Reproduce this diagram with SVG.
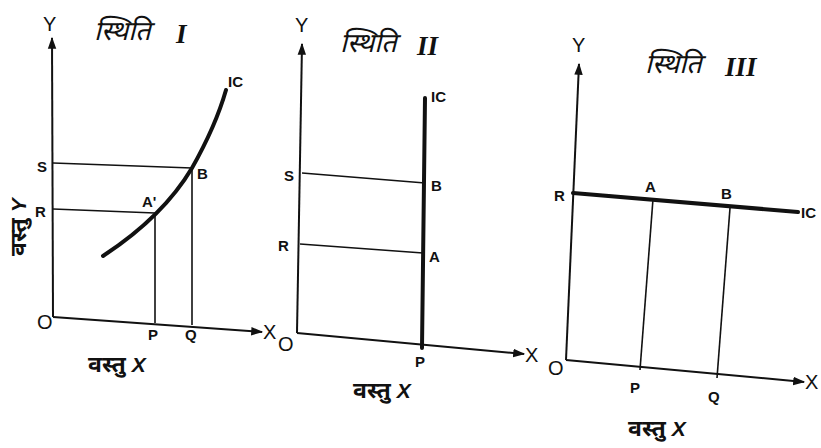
<svg xmlns="http://www.w3.org/2000/svg" width="821" height="448" viewBox="0 0 821 448">
<defs>
<marker id="arr" viewBox="0 0 10 10" refX="9" refY="5" markerWidth="6" markerHeight="6" orient="auto" markerUnits="strokeWidth">
<path d="M0,1.5 L10,5 L0,8.5 z" fill="#111"/>
</marker>
<style>
.ax{stroke:#111;stroke-width:2;fill:none}
.gd{stroke:#111;stroke-width:1.6;fill:none}
.ic{stroke:#111;stroke-width:4;fill:none;stroke-linecap:round}
.pt{font-family:"Liberation Sans",Arial,sans-serif;font-weight:bold;font-size:15px;fill:#111}
.axl{font-family:"Liberation Sans",Arial,sans-serif;font-size:20px;fill:#111}
.ttl{font-family:"Noto Sans Devanagari","Noto Sans",sans-serif;font-style:italic;font-size:27px;fill:#111}
.rn{font-family:"Liberation Serif","Times New Roman",serif;font-style:italic;font-weight:bold;font-size:27px;fill:#111}
.lbl{font-family:"Noto Sans Devanagari","Noto Sans",sans-serif;font-weight:bold;font-size:23px;fill:#111}
.lx{font-family:"Liberation Sans",Arial,sans-serif;font-style:italic;font-size:21px;fill:#111}
</style>
</defs>
<rect width="821" height="448" fill="#fff"/>

<g id="connectors">
<path class="ax" d="M53,317 L52,38" marker-end="url(#arr)"/>
<path class="ax" d="M53,317 L262,332" marker-end="url(#arr)"/>
<path class="ax" d="M297,333 L302,44" marker-end="url(#arr)"/>
<path class="ax" d="M297,333 L524,354" marker-end="url(#arr)"/>
<path class="ax" d="M566,360 L579,64" marker-end="url(#arr)"/>
<path class="ax" d="M566,360 L804,382" marker-end="url(#arr)"/>
</g>

<g id="graph1">
<path class="gd" d="M53,163 L192,168"/>
<path class="gd" d="M53,209 L155,213"/>
<path class="gd" d="M155,214 L155,323"/>
<path class="gd" d="M192,168 L192,325"/>
<path class="ic" d="M103,256 C135,235 170,205 192,168 C205,145 218,118 226,90"/>
<text class="axl" x="43" y="31">Y</text>
<text class="ttl" x="94" y="40">स्थिति</text>
<text class="rn" x="176" y="43">I</text>
<text class="pt" x="228" y="87">IC</text>
<text class="pt" x="37" y="172">S</text>
<text class="pt" x="35" y="217">R</text>
<text class="pt" x="142" y="207">A'</text>
<text class="pt" x="197" y="179">B</text>
<text class="axl" x="37" y="329">O</text>
<text class="pt" x="148" y="340">P</text>
<text class="pt" x="185" y="340">Q</text>
<text class="axl" x="263" y="339">X</text>
<text class="lbl" transform="translate(26,256) rotate(-90)">वस्तु <tspan class="lx">Y</tspan></text>
<text class="lbl" x="88" y="372">वस्तु <tspan class="lx">X</tspan></text>
</g>

<g id="graph2">
<path class="gd" d="M302,173 L425,183"/>
<path class="gd" d="M300,244 L423,253"/>
<path class="ic" d="M425,98 L422,348"/>
<text class="axl" x="295" y="32">Y</text>
<text class="ttl" x="340" y="52">स्थिति</text>
<text class="rn" x="417" y="55">II</text>
<text class="pt" x="431" y="102">IC</text>
<text class="pt" x="284" y="181">S</text>
<text class="pt" x="431" y="191">B</text>
<text class="pt" x="278" y="251">R</text>
<text class="pt" x="429" y="262">A</text>
<text class="axl" x="278" y="351">O</text>
<text class="pt" x="415" y="367">P</text>
<text class="axl" x="525" y="362">X</text>
<text class="lbl" x="353" y="398">वस्तु <tspan class="lx">X</tspan></text>
</g>

<g id="graph3">
<path class="ic" d="M573,193 L798,212"/>
<path class="gd" d="M653,199 L640,370"/>
<path class="gd" d="M730,208 L717,378"/>
<text class="axl" x="572" y="52">Y</text>
<text class="ttl" x="645" y="73">स्थिति</text>
<text class="rn" x="725" y="76">III</text>
<text class="pt" x="554" y="201">R</text>
<text class="pt" x="645" y="192">A</text>
<text class="pt" x="721" y="199">B</text>
<text class="pt" x="801" y="218">IC</text>
<text class="axl" x="548" y="375">O</text>
<text class="pt" x="630" y="393">P</text>
<text class="pt" x="708" y="402">Q</text>
<text class="axl" x="805" y="389">X</text>
<text class="lbl" x="628" y="436">वस्तु <tspan class="lx">X</tspan></text>
</g>
</svg>
